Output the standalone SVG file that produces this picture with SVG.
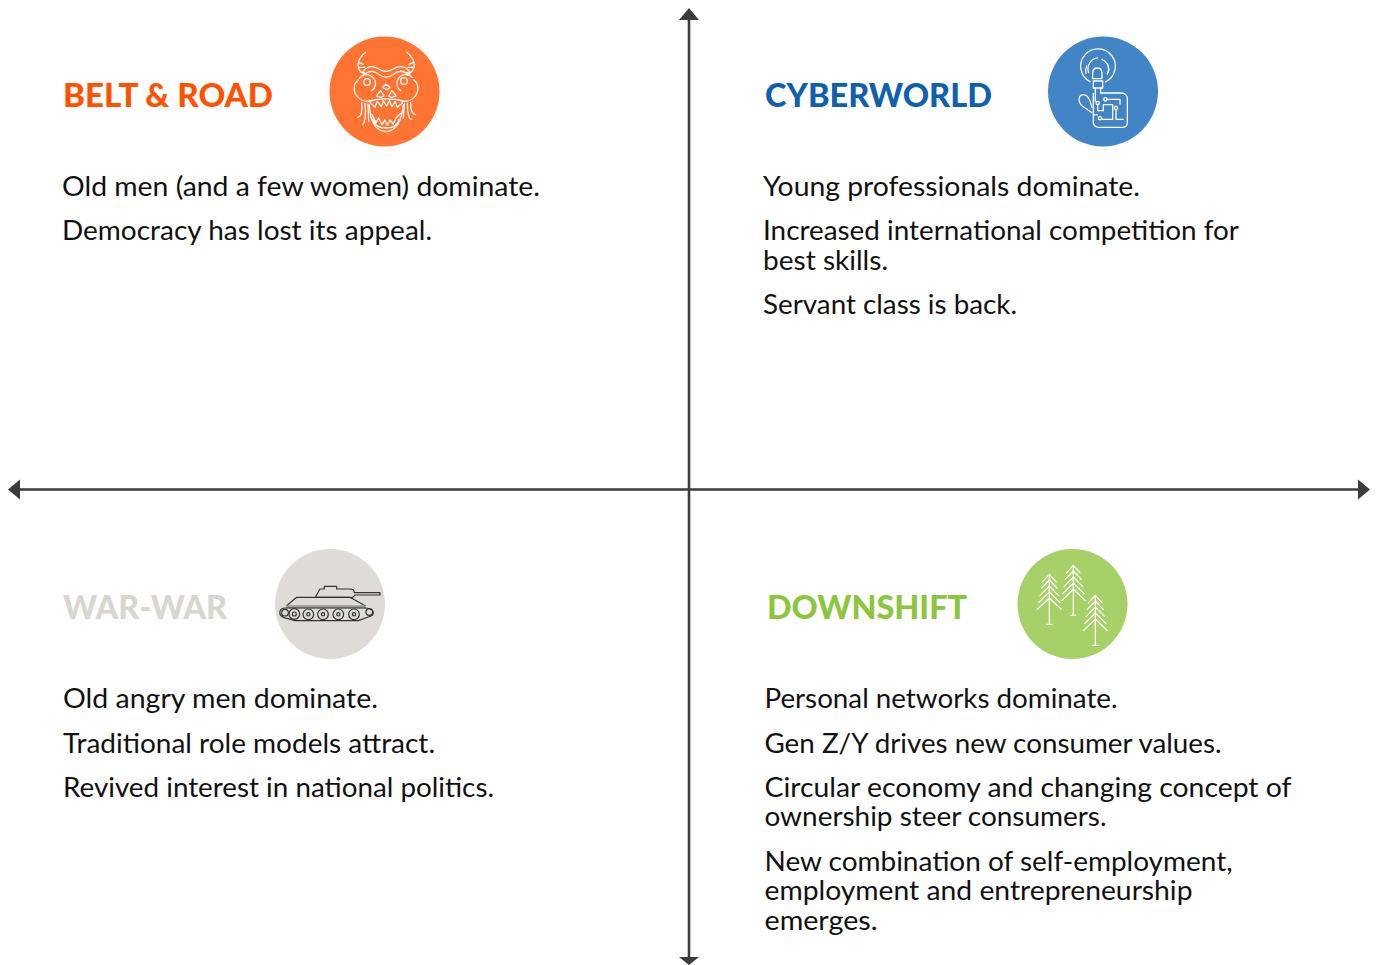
<svg xmlns="http://www.w3.org/2000/svg" width="1377" height="965" viewBox="0 0 1377 965">
<style>
.h{font-family:"Lato","Liberation Sans",sans-serif;font-weight:900;font-size:33px}
.t{font-family:"Lato","Liberation Sans",sans-serif;font-size:27px;fill:#111}
.i{fill:none;stroke:#fff;stroke-width:3.800;stroke-linecap:round;stroke-linejoin:round}
.d{fill:none;stroke:#333;stroke-width:3.600;stroke-linejoin:round}
.ax{stroke:#3c3c3c;stroke-width:2.600;fill:none}
.ah{fill:#3c3c3c}
</style>
<rect width="1377" height="965" fill="#fff"/>
<g id="connectors">
<line class="ax" x1="689" y1="18" x2="689" y2="958"/>
<line class="ax" x1="18" y1="489.500" x2="1360" y2="489.500"/>
<path class="ah" d="M689 8L699 20H679Z"/>
<path class="ah" d="M689 965L699 957H679Z"/>
<path class="ah" d="M8 489.500L20 479.500V499.500Z"/>
<path class="ah" d="M1370 489.500L1358 479.500V499.500Z"/>
</g>
<g id="belt-road">
<circle cx="384.500" cy="91.500" r="55" fill="#ff7433"/>
<g class="i" transform="translate(320 30) scale(.3333)">
<path d="M137 67C120 78 110 100 116 115C120 126 128 132 133 128M128 75L118 88M116 97L130 103M118 112L133 112"/>
<path d="M260 67C277 78 287 100 281 115C277 126 269 132 264 128M269 75L279 88M281 97L267 103M279 112L264 112"/>
<path d="M128 128C140 106 160 106 178 118C192 126 205 126 218 118C236 106 258 106 270 128"/>
<path d="M130 135C150 118 165 122 178 134C192 144 205 144 218 134C232 122 248 118 268 135"/>
<circle cx="141" cy="156" r="10"/><circle cx="252" cy="153" r="10"/>
<path d="M118 145C132 128 155 132 164 150C170 162 165 175 155 182M278 143C264 128 242 132 233 150C228 162 232 175 242 182"/>
<path d="M115 150C96 165 98 195 125 210C140 216 160 214 170 208M282 150C300 165 298 195 272 210C258 216 238 214 228 208"/>
<path d="M188 172L198 163L210 172L200 180ZM170 198L182 182L192 198L182 202ZM228 198L216 182L206 198L216 202Z"/>
<path d="M145 214C170 204 228 204 252 214"/>
<path d="M150 218L165 232L172 214L184 230L190 212L200 228L208 212L216 230L226 214L232 232L248 218"/>
<path d="M148 225C150 262 160 303 198 305C236 303 246 262 250 225"/>
<path d="M156 254L168 278L176 264L186 284L194 270L202 286L210 270L220 282L228 264L242 250M158 268C168 292 182 294 198 294C214 294 230 292 238 268"/>
<path d="M125 218C127 240 125 260 113 262M135 220C138 250 135 275 128 285M144 222L146 275M272 218C272 240 275 250 287 254M262 220C262 250 268 270 275 268M253 222L250 265"/>
</g>
<text class="h" x="63" y="107" fill="#ff5100" textLength="210" lengthAdjust="spacingAndGlyphs">BELT &amp; ROAD</text>
<text class="t" x="62" y="196" textLength="478" lengthAdjust="spacingAndGlyphs">Old men (and a few women) dominate.</text>
<text class="t" x="62" y="240" textLength="370" lengthAdjust="spacingAndGlyphs">Democracy has lost its appeal.</text>
</g>
<g id="cyberworld">
<circle cx="1103" cy="91.500" r="55" fill="#4285c6"/>
<g class="i" transform="translate(1040 30) scale(.3333)">
<path d="M150 155A52 52 0 1 1 196 156"/>
<path d="M146 128A33 33 0 0 1 172 84M186 88A33 33 0 0 1 205 128"/>
<path d="M138 130A35 35 0 0 1 140 108M205 108A35 35 0 0 1 202 132"/>
<path d="M158 146V130C158 119 165 114 172 114C180 114 186 119 186 130V146Z"/>
<path d="M160 153H188V174H160ZM166 174V214M182 174V189"/>
<path d="M160 190V278C160 286 168 292 176 292H248C256 292 262 286 262 278V205C262 195 254 189 244 189H182"/>
<path d="M156 248L132 232C115 222 112 198 128 194C142 192 150 205 156 232"/>
<circle cx="173" cy="219" r="5"/><circle cx="196" cy="208" r="5"/><circle cx="228" cy="234" r="5"/><circle cx="180" cy="265" r="5"/>
<path d="M201 208H240V222M173 224V242H190V224H218V268H185M228 239V268H250M160 255H172"/>
</g>
<text class="h" x="765" y="107" fill="#0f60ad" textLength="227" lengthAdjust="spacingAndGlyphs">CYBERWORLD</text>
<text class="t" x="763" y="196" textLength="377" lengthAdjust="spacingAndGlyphs">Young professionals dominate.</text>
<text class="t" x="763" y="240" textLength="476" lengthAdjust="spacingAndGlyphs">Increased international competition for</text>
<text class="t" x="763" y="270" textLength="125" lengthAdjust="spacingAndGlyphs">best skills.</text>
<text class="t" x="763" y="314" textLength="254" lengthAdjust="spacingAndGlyphs">Servant class is back.</text>
</g>
<g id="war-war">
<circle cx="330" cy="604" r="55" fill="#dfdcd7"/>
<g class="d" transform="translate(265 540) scale(.3333)">
<path d="M152 170L165 147H178V139H215V147H255C264 147 268 152 268 158H345V165H270C266 172 258 175 255 172L152 172"/>
<path d="M64 198L95 172H255L302 198"/>
<path fill="#999" stroke="none" d="M64 196H302V205H64Z"/>
<path d="M62 204H300C325 204 332 222 318 228L280 242H90L55 232C40 226 40 204 62 204Z"/>
<circle cx="60" cy="218" r="10"/><circle cx="88" cy="222" r="16"/><circle cx="88" cy="222" r="6"/>
<circle cx="130" cy="223" r="16"/><circle cx="130" cy="223" r="5"/>
<circle cx="174" cy="223" r="16"/><circle cx="174" cy="223" r="5"/>
<circle cx="220" cy="223" r="16"/><circle cx="220" cy="223" r="5"/>
<circle cx="267" cy="223" r="16"/><circle cx="267" cy="223" r="5"/>
<circle cx="313" cy="216" r="10"/>
</g>
<text class="h" x="63" y="619" fill="#d9d5cf" textLength="164" lengthAdjust="spacingAndGlyphs">WAR-WAR</text>
<text class="t" x="63" y="708" textLength="315" lengthAdjust="spacingAndGlyphs">Old angry men dominate.</text>
<text class="t" x="63" y="753" textLength="372" lengthAdjust="spacingAndGlyphs">Traditional role models attract.</text>
<text class="t" x="63" y="797" textLength="431" lengthAdjust="spacingAndGlyphs">Revived interest in national politics.</text>
</g>
<g id="downshift">
<circle cx="1072.500" cy="604" r="55" fill="#a7d068"/>
<g class="i" transform="translate(1010 540) scale(.3333)">
<path d="M118 103V253M110 253H126M118 103L98 125M118 103L138 125M118 120L94 145M118 120L142 145M118 138L90 167M118 138L146 167M118 156L86 188M118 156L150 188M118 174L82 208M118 174L154 208"/>
<path d="M190 76V226M182 226H198M190 76L170 98M190 76L210 98M190 93L166 118M190 93L214 118M190 111L162 140M190 111L218 140M190 129L158 161M190 129L222 161M190 147L156 182M190 147L226 182"/>
<path d="M256 166V316M248 316H264M256 166L236 188M256 166L276 188M256 183L232 208M256 183L280 208M256 201L228 230M256 201L284 230M256 219L224 251M256 219L288 251M256 237L220 272M256 237L292 272"/>
</g>
<text class="h" x="767" y="619" fill="#8cc63f" textLength="200" lengthAdjust="spacingAndGlyphs">DOWNSHIFT</text>
<text class="t" x="764.500" y="708" textLength="353" lengthAdjust="spacingAndGlyphs">Personal networks dominate.</text>
<text class="t" x="764.500" y="753" textLength="457" lengthAdjust="spacingAndGlyphs">Gen Z/Y drives new consumer values.</text>
<text class="t" x="764.500" y="797" textLength="527" lengthAdjust="spacingAndGlyphs">Circular economy and changing concept of</text>
<text class="t" x="764.500" y="826" textLength="342" lengthAdjust="spacingAndGlyphs">ownership steer consumers.</text>
<text class="t" x="764.500" y="871" textLength="468" lengthAdjust="spacingAndGlyphs">New combination of self-employment,</text>
<text class="t" x="764.500" y="900" textLength="428" lengthAdjust="spacingAndGlyphs">employment and entrepreneurship</text>
<text class="t" x="764.500" y="930" textLength="113" lengthAdjust="spacingAndGlyphs">emerges.</text>
</g>
</svg>
